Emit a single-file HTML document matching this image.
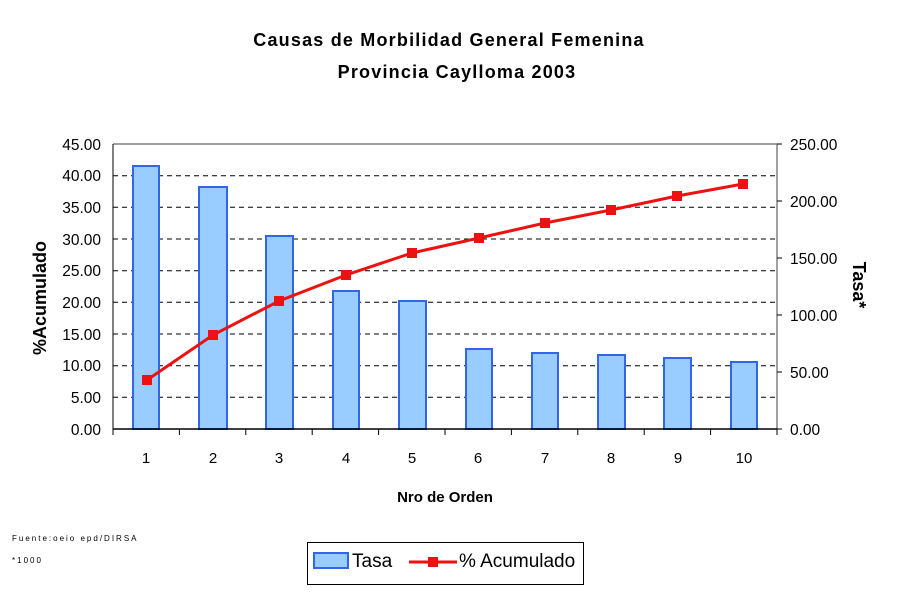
<!DOCTYPE html>
<html><head><meta charset="utf-8"><style>
body{margin:0;background:#fff;}
svg{display:block;font-family:"Liberation Sans",Arial,sans-serif;}
</style></head><body>
<svg width="900" height="600" viewBox="0 0 900 600">
<text x="449" y="46" font-size="18" font-weight="bold" letter-spacing="1.2" text-anchor="middle">Causas de Morbilidad General Femenina</text>
<text x="457" y="78" font-size="18" font-weight="bold" letter-spacing="1.2" text-anchor="middle">Provincia Caylloma 2003</text>
<g stroke="#000" stroke-width="1" stroke-dasharray="5,4">
<line x1="113" x2="777" y1="175.7" y2="175.7"/><line x1="113" x2="777" y1="207.3" y2="207.3"/>
<line x1="113" x2="777" y1="239" y2="239"/><line x1="113" x2="777" y1="270.7" y2="270.7"/>
<line x1="113" x2="777" y1="302.3" y2="302.3"/><line x1="113" x2="777" y1="334" y2="334"/>
<line x1="113" x2="777" y1="365.7" y2="365.7"/><line x1="113" x2="777" y1="397.3" y2="397.3"/>
</g>
<line x1="113" x2="777" y1="144" y2="144" stroke="#808080" stroke-width="1.5"/>
<line x1="777" x2="777" y1="144" y2="429" stroke="#808080" stroke-width="1.5"/>
<line x1="113" x2="113" y1="144" y2="429" stroke="#000"/>
<g fill="#99ccff" stroke="#3366e6" stroke-width="2">
<rect x="133" y="166" width="26" height="263"/>
<rect x="199" y="187" width="28" height="242"/>
<rect x="266" y="236" width="27" height="193"/>
<rect x="333" y="291" width="26" height="138"/>
<rect x="399" y="301" width="27" height="128"/>
<rect x="466" y="349" width="26" height="80"/>
<rect x="532" y="353" width="26" height="76"/>
<rect x="598" y="355" width="27" height="74"/>
<rect x="664" y="358" width="27" height="71"/>
<rect x="731" y="362" width="26" height="67"/>
</g>
<line x1="113" x2="777" y1="429" y2="429" stroke="#000" stroke-width="1.5"/>
<g stroke="#000"><line x1="113" x2="113" y1="429" y2="435"/><line x1="179.4" x2="179.4" y1="429" y2="435"/><line x1="245.8" x2="245.8" y1="429" y2="435"/><line x1="312.2" x2="312.2" y1="429" y2="435"/><line x1="378.6" x2="378.6" y1="429" y2="435"/><line x1="445" x2="445" y1="429" y2="435"/><line x1="511.4" x2="511.4" y1="429" y2="435"/><line x1="577.8" x2="577.8" y1="429" y2="435"/><line x1="644.2" x2="644.2" y1="429" y2="435"/><line x1="710.6" x2="710.6" y1="429" y2="435"/><line x1="777" x2="777" y1="429" y2="435"/>
<line x1="777" x2="782" y1="144" y2="144"/><line x1="777" x2="782" y1="201" y2="201"/><line x1="777" x2="782" y1="258" y2="258"/><line x1="777" x2="782" y1="315" y2="315"/><line x1="777" x2="782" y1="372" y2="372"/><line x1="777" x2="782" y1="429" y2="429"/></g>
<polyline fill="none" stroke="#ee1111" stroke-width="3" points="147,380 213,335 279,301 346,275 412,253 479,238 545,223 611,210 677,196 743,184"/>
<g fill="#ee1111">
<rect x="142" y="375" width="10" height="10"/><rect x="208" y="330" width="10" height="10"/><rect x="274" y="296" width="10" height="10"/><rect x="341" y="270" width="10" height="10"/><rect x="407" y="248" width="10" height="10"/><rect x="474" y="233" width="10" height="10"/><rect x="540" y="218" width="10" height="10"/><rect x="606" y="205" width="10" height="10"/><rect x="672" y="191" width="10" height="10"/><rect x="738" y="179" width="10" height="10"/>
</g>
<g font-size="15.5" text-anchor="end">
<text x="101" y="150">45.00</text><text x="101" y="181">40.00</text><text x="101" y="213">35.00</text><text x="101" y="245">30.00</text><text x="101" y="276">25.00</text><text x="101" y="308">20.00</text><text x="101" y="340">15.00</text><text x="101" y="371">10.00</text><text x="101" y="403">5.00</text><text x="101" y="435">0.00</text>
</g>
<g font-size="15.5">
<text x="790" y="150">250.00</text><text x="790" y="207">200.00</text><text x="790" y="264">150.00</text><text x="790" y="321">100.00</text><text x="790" y="378">50.00</text><text x="790" y="435">0.00</text>
</g>
<g font-size="15" text-anchor="middle">
<text x="146" y="463">1</text><text x="213" y="463">2</text><text x="279" y="463">3</text><text x="346" y="463">4</text><text x="412" y="463">5</text><text x="478" y="463">6</text><text x="545" y="463">7</text><text x="611" y="463">8</text><text x="678" y="463">9</text><text x="744" y="463">10</text>
</g>
<text x="445" y="502" font-size="15" font-weight="bold" text-anchor="middle">Nro de Orden</text>
<text transform="translate(46,298) rotate(-90)" font-size="18" font-weight="bold" text-anchor="middle">%Acumulado</text>
<text transform="translate(853,285) rotate(90)" font-size="18" font-weight="bold" text-anchor="middle">Tasa*</text>
<text x="12" y="541" font-size="8" letter-spacing="2">Fuente:oeio epd/DIRSA</text>
<text x="12" y="563" font-size="8" letter-spacing="2">*1000</text>
<rect x="307.5" y="542.5" width="276" height="42" fill="#fff" stroke="#000"/>
<rect x="314" y="553" width="34" height="15" fill="#99ccff" stroke="#3366e6" stroke-width="2"/>
<text x="352" y="567" font-size="19">Tasa</text>
<line x1="409" x2="457" y1="562" y2="562" stroke="#ee1111" stroke-width="3"/>
<rect x="428" y="557" width="10" height="10" fill="#ee1111"/>
<text x="459" y="567" font-size="19">% Acumulado</text>
</svg>
</body></html>
